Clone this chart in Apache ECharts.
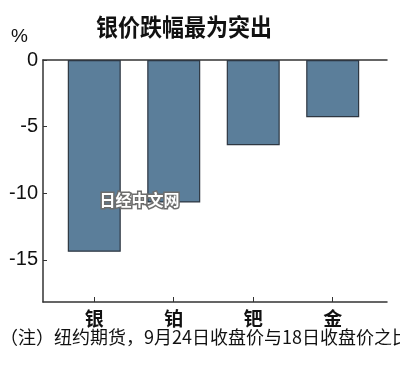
<!DOCTYPE html>
<html>
<head>
<meta charset="utf-8">
<script src="https://cdn.jsdelivr.net/npm/echarts@6/dist/echarts.min.js"></script>
<style>
html,body{margin:0;padding:0;background:#fff;}
#c{width:400px;height:373px;}
</style>
</head>
<body>
<div id="c"></div>
<script>
var categories = ['银', '铂', '钯', '金'];
var values = [-14.4, -10.7, -6.4, -4.3];
var yTicks = [0, -5, -10, -15];
var titleText = '银价跌幅最为突出';
var unitText = '%';
var noteText = '（注）纽约期货，9月24日收盘价与18日收盘价之比';
var watermarkText = '日经中文网';

var positions = categories.map(function (c, i) { return i; });
var seriesData = values.map(function (v, i) { return [positions[i], v]; });

var numFont = '"Liberation Sans Narrow", "Arial Narrow", "Liberation Sans", Arial, sans-serif';
var cjkFont = '"Noto Sans CJK SC", sans-serif';
var axisColor = '#333';

var chart = echarts.init(document.getElementById('c'), null, {renderer: 'canvas'});
chart.setOption({
  animation: false,
  backgroundColor: '#fff',
  grid: {left: 43, right: 13, top: 60, bottom: 71, containLabel: false},
  xAxis: [{
    type: 'value',
    min: -0.645,
    max: 3.683,
    position: 'bottom',
    axisLine: {show: true, onZero: false, lineStyle: {color: axisColor, width: 1.5}},
    axisTick: {show: true, inside: true, length: 5, customValues: positions, lineStyle: {color: axisColor, width: 1}},
    axisLabel: {
      show: true, customValues: positions, margin: 7,
      formatter: function (v) { return categories[Math.round(v)]; },
      fontFamily: cjkFont, fontSize: 19, fontWeight: 'bold', color: '#111'
    },
    splitLine: {show: false}
  }, {
    type: 'value',
    min: -0.645,
    max: 3.683,
    position: 'top',
    axisLine: {show: true, onZero: false, lineStyle: {color: axisColor, width: 1.5}},
    axisTick: {show: false},
    axisLabel: {show: false},
    splitLine: {show: false}
  }],
  yAxis: {
    type: 'value',
    min: -18.17,
    max: 0,
    axisLine: {show: true, onZero: false, lineStyle: {color: axisColor, width: 1.5}},
    axisTick: {show: true, inside: true, length: 4, customValues: yTicks, lineStyle: {color: axisColor}},
    axisLabel: {
      show: true, customValues: yTicks, margin: 5,
      fontFamily: numFont, fontSize: 20, color: '#111'
    },
    splitLine: {show: false}
  },
  series: [{
    type: 'bar',
    xAxisIndex: 0,
    data: seriesData,
    barWidth: 53,
    itemStyle: {color: '#5b7e9a', borderColor: '#2e3742', borderWidth: 1.2}
  }],
  graphic: [
    {type: 'text', left: 96, top: 15, scaleY: 1.1, style: {text: titleText, fontFamily: cjkFont, fontSize: 22, fontWeight: 'bold', fill: '#111'}},
    {type: 'text', left: 11, top: 27, style: {text: unitText, fontFamily: numFont, fontSize: 19, fill: '#111'}},
    {type: 'text', left: 0, top: 328, style: {text: noteText, fontFamily: cjkFont, fontSize: 18, fill: '#111'}},
    {type: 'text', left: 98, top: 190, z: 100, style: {text: watermarkText, fontFamily: cjkFont, fontSize: 16, fontWeight: 'bold', fill: '#fff', stroke: '#6d6d6d', lineWidth: 3}}
  ]
});
</script>
</body>
</html>
